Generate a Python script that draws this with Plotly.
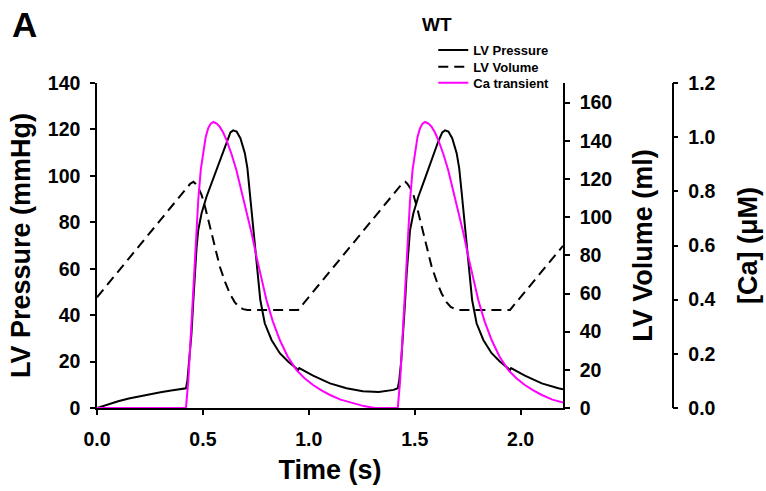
import plotly.graph_objects as go

# ---------------- data ----------------
time_p = [0.00, 0.05, 0.10, 0.15, 0.20, 0.25, 0.30, 0.35, 0.40, 0.42,
          0.427, 0.436, 0.446, 0.454, 0.462, 0.470, 0.478, 0.494, 0.517, 0.549,
          0.580, 0.611, 0.630, 0.643, 0.659, 0.677, 0.698, 0.710, 0.722, 0.734,
          0.745, 0.757, 0.771, 0.792, 0.824, 0.863, 0.902, 0.950, 0.955, 1.020,
          1.100, 1.178, 1.255, 1.330, 1.370, 1.400, 1.420,
          1.427, 1.436, 1.446, 1.454, 1.462, 1.470, 1.478, 1.494, 1.517, 1.549,
          1.580, 1.611, 1.630, 1.643, 1.659, 1.677, 1.698, 1.710, 1.722, 1.734,
          1.745, 1.757, 1.771, 1.792, 1.824, 1.863, 1.902, 1.950, 1.955, 2.020,
          2.100, 2.178, 2.200]
lv_pressure = [0.0, 1.6, 2.9, 4.1, 5.1, 6.0, 6.8, 7.5, 8.1, 8.5,
               12.0, 20.0, 32.0, 45.0, 58.0, 69.0, 76.7, 84.0, 91.0, 99.0,
               107.0, 114.8, 118.7, 119.6, 119.1, 116.2, 109.8, 103.3, 92.5, 81.0,
               69.5, 58.0, 46.5, 36.5, 29.3, 23.6, 20.0, 16.4, 17.2, 13.9,
               10.6, 8.5, 7.2, 6.9, 7.3, 7.8, 8.5,
               12.0, 20.0, 32.0, 45.0, 58.0, 69.0, 76.7, 84.0, 91.0, 99.0,
               107.0, 114.8, 118.7, 119.6, 119.1, 116.2, 109.8, 103.3, 92.5, 81.0,
               69.5, 58.0, 46.5, 36.5, 29.3, 23.6, 20.0, 16.4, 17.2, 13.9,
               10.6, 8.5, 8.1]

time_v = [0.00, 0.44, 0.455, 0.465, 0.48, 0.494, 0.51, 0.533, 0.555, 0.58,
          0.605, 0.627, 0.65, 0.67, 0.69, 0.71, 0.95,
          1.44, 1.455, 1.465, 1.48, 1.494, 1.51, 1.533, 1.555, 1.58,
          1.605, 1.627, 1.65, 1.67, 1.69, 1.71, 1.95, 2.20]
lv_volume = [58.0, 117.5, 118.5, 117.5, 115.0, 111.5, 105.5, 95.0, 84.5, 74.0,
             66.0, 60.0, 55.5, 53.0, 51.8, 51.4, 51.4,
             117.5, 118.5, 117.5, 115.0, 111.5, 105.5, 95.0, 84.5, 74.0,
             66.0, 60.0, 55.5, 53.0, 51.8, 51.4, 51.4, 85.0]

time_ca = [0.00, 0.42, 0.431, 0.438, 0.446, 0.454, 0.462, 0.470, 0.478, 0.490,
           0.502, 0.513, 0.525, 0.537, 0.549, 0.565, 0.580, 0.595, 0.611, 0.635,
           0.658, 0.680, 0.706, 0.730, 0.753, 0.776, 0.800, 0.830, 0.863, 0.900,
           0.942, 0.980, 1.020, 1.060, 1.100, 1.150, 1.210, 1.260, 1.310, 1.420,
           1.431, 1.438, 1.446, 1.454, 1.462, 1.470, 1.478, 1.490,
           1.502, 1.513, 1.525, 1.537, 1.549, 1.565, 1.580, 1.595, 1.611, 1.635,
           1.658, 1.680, 1.706, 1.730, 1.753, 1.776, 1.800, 1.830, 1.863, 1.900,
           1.942, 1.980, 2.020, 2.060, 2.100, 2.150, 2.200]
ca_transient = [0.0, 0.0, 0.10, 0.20, 0.30, 0.43, 0.547, 0.66, 0.768, 0.880,
                0.953, 1.000, 1.033, 1.050, 1.056, 1.050, 1.038, 1.018, 0.990, 0.938,
                0.879, 0.810, 0.731, 0.645, 0.559, 0.475, 0.399, 0.320, 0.251, 0.190,
                0.140, 0.110, 0.085, 0.065, 0.048, 0.031, 0.017, 0.007, 0.0, 0.0,
                0.10, 0.20, 0.30, 0.43, 0.547, 0.66, 0.768, 0.880,
                0.953, 1.000, 1.033, 1.050, 1.056, 1.050, 1.038, 1.018, 0.990, 0.938,
                0.879, 0.810, 0.731, 0.645, 0.559, 0.475, 0.399, 0.320, 0.251, 0.190,
                0.140, 0.110, 0.085, 0.065, 0.048, 0.031, 0.020]

x_ticks = [0.0, 0.5, 1.0, 1.5, 2.0]
p_ticks = [0, 20, 40, 60, 80, 100, 120, 140]
v_ticks = [0, 20, 40, 60, 80, 100, 120, 140, 160]
ca_ticks = [0.0, 0.2, 0.4, 0.6, 0.8, 1.0, 1.2]

# ---------------- figure ----------------
FONT = "Liberation Sans, Arial, sans-serif"
tickfont = dict(family=FONT, size=19.5, color="black", weight="bold")
titlefont = dict(family=FONT, size=27, color="black", weight="bold")
legfont = dict(family=FONT, size=13, color="black", weight="bold")

fig = go.Figure()
fig.add_trace(go.Scatter(x=time_p, y=lv_pressure, name="LV Pressure", mode="lines",
                         line=dict(color="black", width=2), yaxis="y", legend="legend"))
fig.add_trace(go.Scatter(x=time_v, y=lv_volume, name="LV Volume", mode="lines",
                         line=dict(color="black", width=2, dash="10px,6px"), yaxis="y2",
                         legend="legend2"))
fig.add_trace(go.Scatter(x=time_ca, y=ca_transient, name="Ca transient", mode="lines",
                         line=dict(color="#FF00FF", width=2), yaxis="y3", legend="legend3"))

axis_common = dict(showgrid=False, zeroline=False, showline=True, linecolor="black",
                   linewidth=1.5, ticks="outside", ticklen=5, tickwidth=1.5,
                   tickcolor="black", tickfont=tickfont, automargin=False,
                   layer="below traces")

leg_common = dict(xanchor="left", yanchor="top", font=legfont,
                  bgcolor="rgba(0,0,0,0)", borderwidth=0)

fig.update_layout(
    width=766, height=491,
    margin=dict(l=97, r=86, t=83, b=83),
    plot_bgcolor="white", paper_bgcolor="white",
    showlegend=True,
    legend=dict(x=0.5768, y=1.1477, **leg_common),
    legend2=dict(x=0.5768, y=1.0963, **leg_common),
    legend3=dict(x=0.5768, y=1.0471, **leg_common),
    xaxis=dict(domain=[0, 0.7993], range=[0, 2.2], tickvals=x_ticks, tickformat=".1f",
               ticklabelstandoff=8,
               title=dict(text="Time (s)", font=titlefont, standoff=11), **axis_common),
    yaxis=dict(range=[0, 140], tickvals=p_ticks, ticklabelstandoff=6,
               title=dict(text="LV Pressure (mmHg)", font=titlefont, standoff=9),
               **axis_common),
    yaxis2=dict(range=[0, 170.3], tickvals=v_ticks, overlaying="y", side="right",
                anchor="x", ticklabelstandoff=6,
                title=dict(text="LV Volume (ml)", font=titlefont, standoff=22),
                **axis_common),
    yaxis3=dict(range=[0, 1.2], tickvals=ca_ticks, tickformat=".1f", overlaying="y",
                side="right", anchor="free", position=0.9875, ticklabelstandoff=6,
                title=dict(text="[Ca] (μM)", font=titlefont, standoff=22),
                **axis_common),
    annotations=[
        dict(text="A", xref="paper", yref="paper", x=-0.1235, y=1.18,
             xanchor="center", yanchor="middle", showarrow=False,
             font=dict(family=FONT, size=35, color="black", weight="bold")),
        dict(text="WT", xref="paper", yref="paper", x=0.5827, y=1.179,
             xanchor="center", yanchor="middle", showarrow=False,
             font=dict(family=FONT, size=19, color="black", weight="bold")),
    ],
)

fig.write_html("out.html")
